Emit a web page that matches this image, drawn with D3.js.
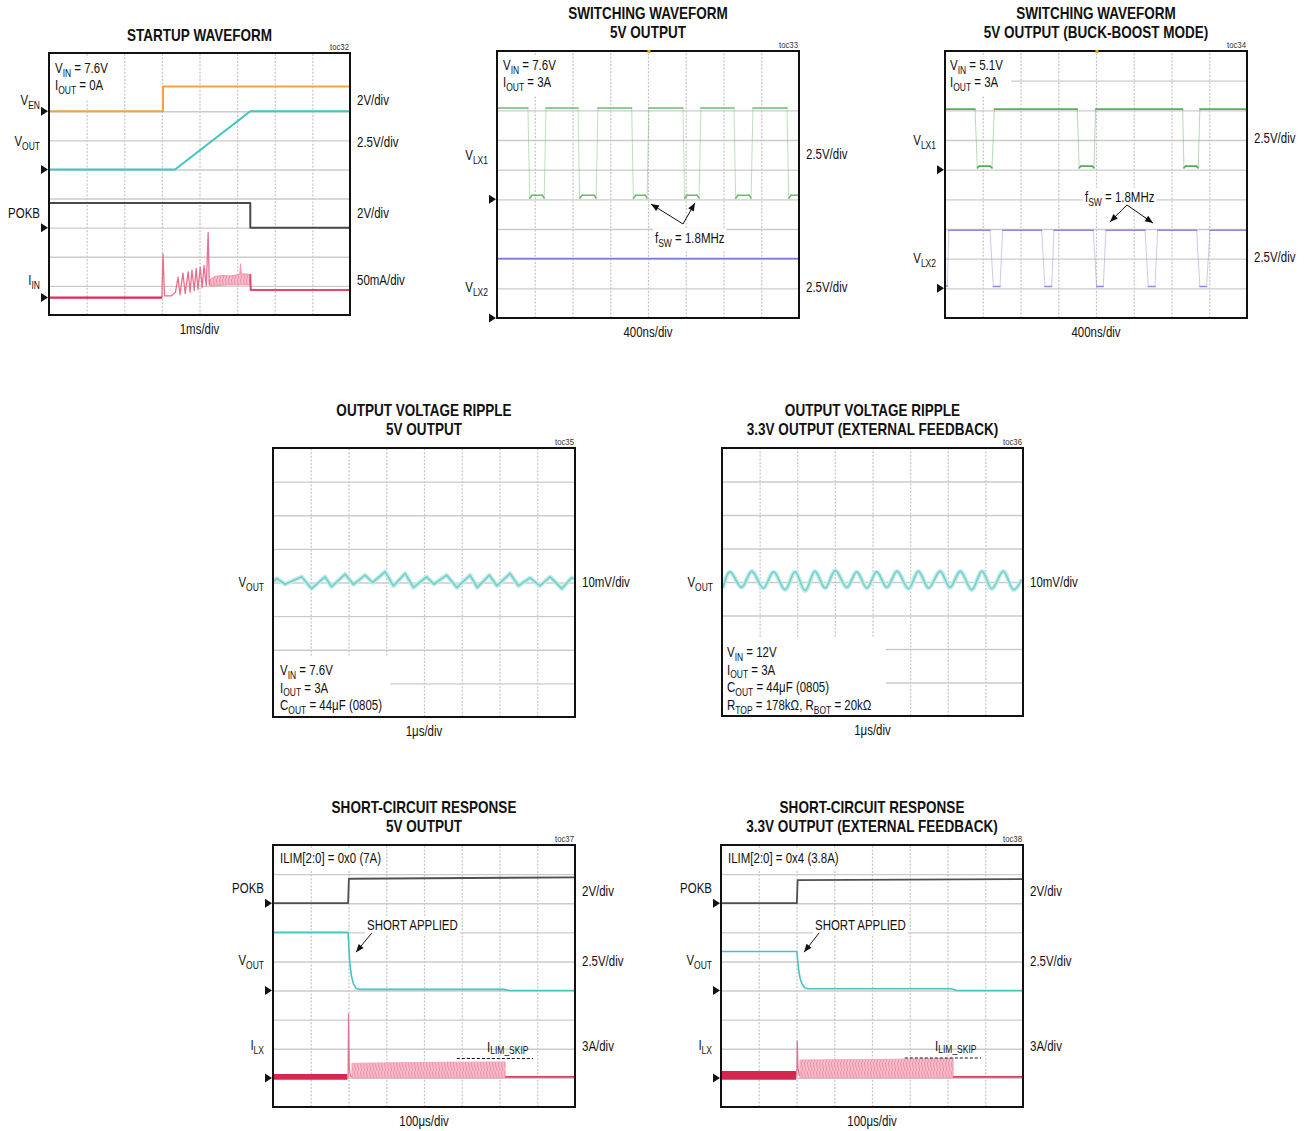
<!DOCTYPE html>
<html><head><meta charset="utf-8">
<script src="https://cdn.jsdelivr.net/npm/d3@7"></script>
<style>html,body{margin:0;padding:0;background:#fff}svg{display:block}</style>
</head><body>
<svg id="chart" width="1306" height="1131"></svg>
<script>
// ================= DATA =================
// toc32 STARTUP WAVEFORM : time in ms, values in V / mA
const startupVEN  = [[0,0],[3.03,0],[3.03,1.7],[8,1.7]];
const startupVOUT = [[0,0],[3.35,0],[5.35,5.0],[8,5.0]];
const startupPOKB = [[0,1.7],[5.35,1.7],[5.35,0],[8,0]];
const startupIIN  = [[0,0],[3.0,0],[3.03,75],[3.07,3],[3.25,3],[3.36,9],[3.43,35],[3.48,5],[3.56,42],[3.62,7],
  [3.70,44],[3.75,9],[3.80,47],[3.86,12],[3.91,50],[3.96,14],[4.02,52],[4.07,17],[4.12,55],[4.18,20],[4.23,112],[4.26,22]];
const startupIINBand  = [[4.26,20,30],[4.4,20,36],[4.6,21,38],[4.8,22,37],[5.0,22,39],[5.07,22,41],[5.09,22,58],[5.11,22,41],[5.35,22,40]];
const startupIINAfter = [[5.35,40],[5.36,13],[8,13]];

// toc33 SWITCHING 5V : time in ns, volts
const sw5LX1 = [[0,7.7],[328,7.7],[346,0.1],[370,0.35],[480,0.35],[500,0.1],[519,7.7],
  [858,7.7],[876,0.1],[900,0.35],[1030,0.35],[1050,0.1],[1070,7.7],
  [1427,7.7],[1445,0.1],[1470,0.35],[1570,0.35],[1590,0.1],[1610,7.7],
  [1970,7.7],[1988,0.1],[2012,0.35],[2120,0.35],[2141,0.1],[2161,7.7],
  [2511,7.7],[2529,0.1],[2553,0.35],[2672,0.35],[2692,0.1],[2712,7.7],
  [3073,7.7],[3091,0.1],[3115,0.35],[3200,0.35]];
const sw5LX2 = [[0,5.0],[3200,5.0]];

// toc34 SWITCHING BUCK-BOOST : time in ns, volts
const bbLX1 = [[0,5.1],[318,5.1],[343,0.15],[362,0.3],[478,0.3],[498,0.15],[523,5.1],
  [1401,5.1],[1422,0.15],[1440,0.3],[1560,0.3],[1578,0.15],[1596,5.1],
  [2518,5.1],[2532,0.15],[2550,0.3],[2665,0.3],[2683,0.15],[2701,5.1],[3200,5.1]];
const bbLX2 = [[0,0.2],[25,0.2],[40,4.9],[477,4.9],[512,0.15],[583,0.15],[611,4.9],
  [1024,4.9],[1059,0.15],[1130,0.15],[1155,4.9],[1571,4.9],[1607,0.15],[1677,0.15],[1706,4.9],
  [2119,4.9],[2154,0.15],[2225,0.15],[2253,4.9],[2666,4.9],[2701,0.15],[2772,0.15],[2807,4.9],[3200,4.9]];

// toc35 / toc36 RIPPLE : time in us, mV (AC)
const ripple5 = [[0.03,0.4],[0.10,1.2],[0.32,-0.5],[0.76,1.7],[1.02,-1.8],[1.38,1.7],[1.55,-1.3],[1.91,2.5],
  [2.13,-0.6],[2.44,2.2],[2.64,0],[2.97,3.2],[3.19,-1.0],[3.50,2.7],[3.72,-1.5],[4.07,1.7],[4.26,-0.5],
  [4.60,2.2],[4.87,-1.5],[5.22,2.2],[5.41,-1.5],[5.73,2.2],[5.93,-1.0],[6.28,2.7],[6.50,-1.0],[6.81,1.4],
  [7.07,-1.0],[7.34,1.7],[7.65,-1.8],[7.91,1.4],[7.97,1.0]];
const ripple33 = [[0.02,-1.8],[0.21,3.0],[0.52,-1.6],[0.79,3.2],[1.10,-1.8],[1.37,3.0],[1.68,-2.3],[1.94,3.0],
  [2.21,-2.6],[2.47,3.2],[2.74,-1.8],[3.01,3.4],[3.32,-1.6],[3.58,3.0],[3.85,-1.8],[4.11,3.0],[4.38,-1.6],
  [4.65,3.2],[4.96,-2.0],[5.22,3.2],[5.49,-1.8],[5.80,3.2],[6.06,-1.6],[6.33,3.2],[6.64,-2.3],[6.91,3.2],
  [7.17,-2.0],[7.48,3.2],[7.75,-2.3],[7.97,0.7]];

// toc37 SHORT-CIRCUIT 5V : time in us, V / A
const sc5POKB  = [[0,0],[199,0],[201,1.68],[800,1.78]];
const sc5VOUT  = [[0,5.0],[199,5.0],[201,3.6],[204,2.2],[208,1.2],[213,0.6],[220,0.2],[230,0.1],[612,0.1],[625,0.0],[800,0.0]];
const sc5ILXPre   = [[0,-0.2,0.4],[197,-0.2,0.4]];
const sc5ILXSpike = [[197,0.1],[199,0.1],[200,6.6],[202,1.0],[205,0.2],[209,0.1]];
const sc5ILXBand  = [[209,0,1.5],[400,0,1.6],[615,0,1.65]];
const sc5ILXAfter = [[615,0.1],[800,0.1]];
const sc5ILIMSkip = [[487,2.0],[689,2.0]];

// toc38 SHORT-CIRCUIT 3.3V : time in us, V / A
const sc33POKB  = [[0,0],[201,0],[203,1.58],[800,1.66]];
const sc33VOUT  = [[0,3.35],[201,3.35],[203,2.6],[206,1.7],[210,1.0],[215,0.55],[222,0.25],[230,0.15],[610,0.15],[625,0.0],[800,0.0]];
const sc33ILXPre   = [[0,-0.2,0.7],[199,-0.2,0.7]];
const sc33ILXSpike = [[199,0.2],[201,0.2],[202,3.8],[204,1.0],[207,0.3],[209,0.2]];
const sc33ILXBand  = [[209,0,1.85],[400,0,1.9],[615,0,2.0]];
const sc33ILXAfter = [[615,0.1],[800,0.1]];
const sc33ILIMSkip = [[487,2.05],[689,2.05]];

// ---- texts ----
const titles = {
  startup:["STARTUP WAVEFORM"],
  sw5:["SWITCHING WAVEFORM","5V OUTPUT"],
  swbb:["SWITCHING WAVEFORM","5V OUTPUT (BUCK-BOOST MODE)"],
  rip5:["OUTPUT VOLTAGE RIPPLE","5V OUTPUT"],
  rip33:["OUTPUT VOLTAGE RIPPLE","3.3V OUTPUT (EXTERNAL FEEDBACK)"],
  sc5:["SHORT-CIRCUIT RESPONSE","5V OUTPUT"],
  sc33:["SHORT-CIRCUIT RESPONSE","3.3V OUTPUT (EXTERNAL FEEDBACK)"]
};
const tocLabels = {startup:"toc32",sw5:"toc33",swbb:"toc34",rip5:"toc35",rip33:"toc36",sc5:"toc37",sc33:"toc38"};
const timeLabels = {startup:"1ms/div",sw5:"400ns/div",swbb:"400ns/div",rip5:"1μs/div",rip33:"1μs/div",sc5:"100μs/div",sc33:"100μs/div"};
const infoTexts = {
  startup:["V_{IN} = 7.6V","I_{OUT} = 0A"],
  sw5:["V_{IN} = 7.6V","I_{OUT} = 3A"],
  swbb:["V_{IN} = 5.1V","I_{OUT} = 3A"],
  rip5:["V_{IN} = 7.6V","I_{OUT} = 3A","C_{OUT} = 44μF (0805)"],
  rip33:["V_{IN} = 12V","I_{OUT} = 3A","C_{OUT} = 44μF (0805)","R_{TOP} = 178kΩ, R_{BOT} = 20kΩ"],
  sc5:["ILIM[2:0] = 0x0 (7A)"],
  sc33:["ILIM[2:0] = 0x4 (3.8A)"]
};
const chanNames = {
  startup:["V_{EN}","V_{OUT}","POKB","I_{IN}"], sw5:["V_{LX1}","V_{LX2}"], swbb:["V_{LX1}","V_{LX2}"],
  rip5:["V_{OUT}"], rip33:["V_{OUT}"], sc5:["POKB","V_{OUT}","I_{LX}"], sc33:["POKB","V_{OUT}","I_{LX}"]
};
const chanScales = {
  startup:["2V/div","2.5V/div","2V/div","50mA/div"], sw5:["2.5V/div","2.5V/div"], swbb:["2.5V/div","2.5V/div"],
  rip5:["10mV/div"], rip33:["10mV/div"], sc5:["2V/div","2.5V/div","3A/div"], sc33:["2V/div","2.5V/div","3A/div"]
};
const perDiv = {startup:[2,2.5,2,50], sw5:[2.5,2.5], swbb:[2.5,2.5], rip5:[10], rip33:[10], sc5:[2,2.5,3], sc33:[2,2.5,3]};
const fswLabel = "f_{SW} = 1.8MHz", shortLabel = "SHORT APPLIED", skipLabel = "I_{LIM_SKIP}";

// ================= LAYOUT =================
const layout = {
  startup:{x:49,y:53,w:301,h:262,nx:8,ny:9,t:[0,8]},
  sw5:{x:497,y:51,w:302,h:267,nx:8,ny:9,t:[0,3200]},
  swbb:{x:945,y:51,w:302,h:267,nx:8,ny:9,t:[0,3200]},
  rip5:{x:273,y:448,w:302,h:269,nx:8,ny:8,t:[0,8]},
  rip33:{x:722,y:448,w:301,h:268,nx:8,ny:8,t:[0,8]},
  sc5:{x:273,y:845,w:302,h:262,nx:8,ny:9,t:[0,800]},
  sc33:{x:721,y:845,w:302,h:262,nx:8,ny:9,t:[0,800]}
};
const hiddenRows = {startup:[8], sw5:[8]};
const markerDiv = {startup:[7,5,3,0.6], sw5:[4,0], swbb:[5,1], rip5:[4], rip33:[4], sc5:[7,4,1], sc33:[7,4,1]};
const showMarkers = {startup:true,sw5:true,swbb:true,rip5:false,rip33:false,sc5:true,sc33:true};
const leftBase  = {startup:[105,146,218,285], sw5:[160,292], swbb:[145,263], rip5:[587], rip33:[587], sc5:[893,965,1050], sc33:[893,965,1050]};
const rightBase = {startup:[105,147,218,285], sw5:[159,292], swbb:[143,262], rip5:[587], rip33:[587], sc5:[896,966,1051], sc33:[896,966,1051]};
const infoPos = {startup:{x:55,y:73,top:true,pad:8}, sw5:{x:503,y:70,top:true,pad:8}, swbb:{x:950,y:70,top:true,pad:8},
  rip5:{x:280,y:675,top:false,pad:8}, rip33:{x:727,y:657,top:false,pad:14}, sc5:{x:280,y:863,top:true,pad:4}, sc33:{x:728,y:863,top:true,pad:4}};
const infoStep = {startup:17,sw5:17,swbb:17,rip5:17.5,rip33:17.7,sc5:17,sc33:17};

// ================= FONT =================
function fontAvailable(name){
  const ctx=document.createElement('canvas').getContext('2d');
  const s='STARTUP WAVEFORM 2.5V/div mW';
  ctx.font='32px monospace'; const a=ctx.measureText(s).width;
  ctx.font='32px serif'; const b=ctx.measureText(s).width;
  ctx.font=`32px "${name}", monospace`; const c=ctx.measureText(s).width;
  ctx.font=`32px "${name}", serif`; const d=ctx.measureText(s).width;
  return a!==c && b!==d;
}
let FAM, SX;
if (fontAvailable('Liberation Sans Narrow')) { FAM="'Liberation Sans Narrow'"; SX=1; }
else { FAM="'Liberation Sans', Arial, sans-serif"; SX=0.82; }

const svg = d3.select('#chart');
const defs = svg.append('defs');
const pat = defs.append('pattern').attr('id','stripe').attr('patternUnits','userSpaceOnUse').attr('width',3).attr('height',9);
pat.append('rect').attr('width',3).attr('height',9).attr('fill','#f7bccb');
pat.append('path').attr('d','M0.3,0 L1.8,9').attr('stroke','#eb8aa4').attr('stroke-width',0.9);

const L_grid = svg.append('g'), L_box = svg.append('g'), L_trace = svg.append('g'), L_frame = svg.append('g'), L_text = svg.append('g');

function addText(parent, x, y, str, o={}){
  const size=o.size||14;
  const t=parent.append('text').attr('font-family',FAM).attr('font-size',size)
    .attr('font-weight',o.weight||'normal').attr('text-anchor',o.anchor||'start').attr('fill',o.fill||'#111');
  if (SX!==1) t.attr('transform',`translate(${x},${y}) scale(${SX},1)`); else t.attr('x',x).attr('y',y);
  const re=/_\{([^}]*)\}/g; let last=0, m, shifted=false;
  const sub=size*0.74, dd=(o.subShift!==undefined?o.subShift:size*0.27);
  while((m=re.exec(str))){
    if (m.index>last){ t.append('tspan').attr('dy',shifted?-dd:0).text(str.slice(last,m.index)); shifted=false; }
    t.append('tspan').attr('font-size',sub).attr('dy',shifted?0:dd).text(m[1]); shifted=true;
    last=re.lastIndex;
  }
  if (last<str.length) t.append('tspan').attr('dy',shifted?-dd:0).text(str.slice(last));
  return t;
}
function boxBehind(nodes, padR, padT, padB, x0){
  let x1=-1e9,y0=1e9,y1=-1e9,xmin=1e9;
  nodes.forEach(n=>{const r=n.node().getBoundingClientRect(); x1=Math.max(x1,r.right); y0=Math.min(y0,r.top); y1=Math.max(y1,r.bottom); xmin=Math.min(xmin,r.left);});
  const left = x0!==undefined ? x0 : xmin-2;
  L_box.append('rect').attr('x',left).attr('y',y0-padT).attr('width',x1+padR-left).attr('height',y1-y0+padT+padB).attr('fill','#fff');
}

// ================= PANELS =================
const P = {};
Object.keys(layout).forEach(key=>{
  const L = layout[key];
  const x = d3.scaleLinear().domain(L.t).range([L.x, L.x+L.w]);
  const y = d3.scaleLinear().domain([0,L.ny]).range([L.y+L.h, L.y]);
  const span = L.t[1]-L.t[0];
  const hid = hiddenRows[key]||[];
  L_grid.append('g').attr('transform',`translate(0,${L.y+L.h})`)
    .call(d3.axisBottom(x).tickValues(d3.range(1,L.nx).map(i=>L.t[0]+span*i/L.nx)).tickSize(-L.h).tickFormat(''))
    .call(s=>s.select('.domain').remove())
    .call(s=>s.selectAll('line').attr('stroke','#c4c4c4').attr('stroke-width',1.2).attr('stroke-dasharray','2,1.6'));
  L_grid.append('g').attr('transform',`translate(${L.x},0)`)
    .call(d3.axisLeft(y).tickValues(d3.range(1,L.ny).filter(d=>!hid.includes(d))).tickSize(-L.w).tickFormat(''))
    .call(s=>s.select('.domain').remove())
    .call(s=>s.selectAll('line').attr('stroke','#cbcbcb').attr('stroke-width',1.4));
  L_frame.append('rect').attr('x',L.x).attr('y',L.y).attr('width',L.w).attr('height',L.h)
    .attr('fill','none').attr('stroke','#111').attr('stroke-width',2);
  const cx = L.x+L.w/2;
  const tl = titles[key];
  if (tl.length===1) addText(L_text,cx,L.y-12,tl[0],{size:16.5,weight:'bold',anchor:'middle'});
  else { addText(L_text,cx,L.y-32,tl[0],{size:16.5,weight:'bold',anchor:'middle'}); addText(L_text,cx,L.y-13,tl[1],{size:16.5,weight:'bold',anchor:'middle'}); }
  addText(L_text,L.x+L.w-1,L.y-3,tocLabels[key],{size:9.5,anchor:'end',fill:'#333'});
  addText(L_text,cx,L.y+L.h+19,timeLabels[key],{size:14,anchor:'middle'});
  chanNames[key].forEach((n,i)=>{
    addText(L_text,L.x-9,leftBase[key][i],n,{size:14,anchor:'end'});
    addText(L_text,L.x+L.w+7,rightBase[key][i],chanScales[key][i],{size:14});
    if (showMarkers[key]) {
      const my = y(markerDiv[key][i]);
      L_frame.append('path').attr('d',d3.line()([[L.x-8,my-4.5],[L.x-1,my],[L.x-8,my+4.5]])+'Z').attr('fill','#111');
    }
  });
  const ip = infoPos[key];
  const nodes = infoTexts[key].map((s,i)=>addText(L_text,ip.x,ip.y+i*infoStep[key],s,{size:14}));
  boxBehind(nodes, ip.pad, ip.top?2:6, ip.top?3:0, L.x+1);
  P[key] = {x,y,L};
});

function yv(key,ch){ const p=P[key]; return v=>p.y(markerDiv[key][ch]+v/perDiv[key][ch]); }
function line(key,ch,data,color,width,opts={}){
  const p=P[key], f=yv(key,ch);
  const gen=d3.line().x(d=>p.x(d[0])).y(d=>f(d[1])).curve(opts.curve||d3.curveLinear);
  return L_trace.append('path').datum(data).attr('d',gen).attr('fill','none').attr('stroke',color)
    .attr('stroke-width',width).attr('stroke-linejoin','round').attr('opacity',opts.opacity||1);
}
function segLine(key,ch,data,color,width){
  const p=P[key], f=yv(key,ch);
  const gen=d3.line().x(d=>p.x(d[0])).y(d=>f(d[1]));
  for (let i=1;i<data.length;i++){
    const a=data[i-1], b=data[i];
    const dx=Math.abs(p.x(b[0])-p.x(a[0])), dy=Math.abs(f(b[1])-f(a[1]));
    const steep = dy>8 && dy>2*dx;
    L_trace.append('path').attr('d',gen([a,b])).attr('fill','none').attr('stroke',color)
      .attr('stroke-width',steep?1:width).attr('opacity',steep?0.45:1).attr('stroke-linecap','round');
  }
}
function band(key,ch,data,fill,stroke){
  const p=P[key], f=yv(key,ch);
  const gen=d3.area().x(d=>p.x(d[0])).y0(d=>f(d[1])).y1(d=>f(d[2]));
  L_trace.append('path').datum(data).attr('d',gen).attr('fill',fill).attr('stroke',stroke||'none').attr('stroke-width',0.8);
}
function arrow(key,from,to){
  const p=P[key];
  const x1=p.x(from[0]), y1=p.y(from[1]), x2=p.x(to[0]), y2=p.y(to[1]);
  L_text.append('line').attr('x1',x1).attr('y1',y1).attr('x2',x2).attr('y2',y2).attr('stroke','#111').attr('stroke-width',1);
  const ang=Math.atan2(y2-y1,x2-x1), s=8, w=3.2;
  const pts=[[x2,y2],[x2-s*Math.cos(ang)+w*Math.sin(ang), y2-s*Math.sin(ang)-w*Math.cos(ang)],[x2-s*Math.cos(ang)-w*Math.sin(ang), y2-s*Math.sin(ang)+w*Math.cos(ang)]];
  L_text.append('path').attr('d',d3.line()(pts)+'Z').attr('fill','#111');
}
function annot(key,t,div,str,opts={}){
  const p=P[key];
  const n=addText(L_text,p.x(t),p.y(div),str,{size:14,subShift:opts.subShift});
  if (opts.box) boxBehind([n],2,1,1);
  return n;
}
function trig(key,t){
  const p=P[key];
  L_frame.append('rect').attr('x',p.x(t)-1.5).attr('y',p.L.y-1).attr('width',3).attr('height',3).attr('fill','#f0a040');
}

// ---- toc32 ----
line('startup',0,startupVEN,'#f4a340',2);
line('startup',1,startupVOUT,'#3cc6bf',2);
line('startup',2,startupPOKB,'#4a4a4a',2);
band('startup',3,startupIINBand,'url(#stripe)','#f08aa2');
line('startup',3,startupIIN,'#e8708c',1.3);
line('startup',3,[[0,0],[3.0,0]],'#dd2f55',2.2);
line('startup',3,startupIINAfter,'#e04a6a',2);

// ---- toc33 ----
segLine('sw5',0,sw5LX1,'#6cbc6c',1.6);
line('sw5',1,sw5LX2,'#7c7cd6',1.8);
trig('sw5',1610);
annot('sw5',1674,2.53,fswLabel,{box:true});
arrow('sw5',[1971,3.17],[1632,3.84]);
arrow('sw5',[1971,3.17],[2098,3.88]);

// ---- toc34 ----
segLine('swbb',0,bbLX1,'#5aad5a',1.6);
segLine('swbb',1,bbLX2,'#8a8ade',1.4);
trig('swbb',1610);
annot('swbb',1483,3.91,fswLabel,{box:true});
arrow('swbb',[1928,3.81],[1748,3.24]);
arrow('swbb',[1928,3.81],[2204,3.20]);

// ---- toc35 / toc36 ----
line('rip5',0,ripple5,'#c4ece8',4.5);
line('rip5',0,ripple5,'#76d0cb',1.7);
line('rip33',0,ripple33,'#c4ece8',4.5,{curve:d3.curveMonotoneX});
line('rip33',0,ripple33,'#76d0cb',1.7,{curve:d3.curveMonotoneX});

// ---- toc37 ----
line('sc5',0,sc5POKB,'#505050',1.8);
line('sc5',1,sc5VOUT,'#45c4c2',1.6);
band('sc5',2,sc5ILXPre,'#d8274e');
band('sc5',2,sc5ILXBand,'url(#stripe)','#f1a0b5');
line('sc5',2,sc5ILXSpike,'#e0708c',1.2);
line('sc5',2,sc5ILXAfter,'#dc3a60',1.6);
line('sc5',2,sc5ILIMSkip,'#111',1).attr('stroke-dasharray','3,2');
annot('sc5',249,6.08,shortLabel,{box:true});
arrow('sc5',[262,5.98],[220,5.32]);
annot('sc5',567,1.89,skipLabel,{subShift:2});

// ---- toc38 ----
line('sc33',0,sc33POKB,'#505050',1.8);
line('sc33',1,sc33VOUT,'#45c4c2',1.6);
band('sc33',2,sc33ILXPre,'#d8274e');
band('sc33',2,sc33ILXBand,'url(#stripe)','#f1a0b5');
line('sc33',2,sc33ILXSpike,'#e0708c',1.2);
line('sc33',2,sc33ILXAfter,'#dc3a60',1.6);
line('sc33',2,sc33ILIMSkip,'#111',1).attr('stroke-dasharray','3,2');
annot('sc33',249,6.08,shortLabel,{box:true});
arrow('sc33',[260,5.98],[220,5.32]);
annot('sc33',567,1.93,skipLabel,{subShift:2});
</script>
</body></html>
